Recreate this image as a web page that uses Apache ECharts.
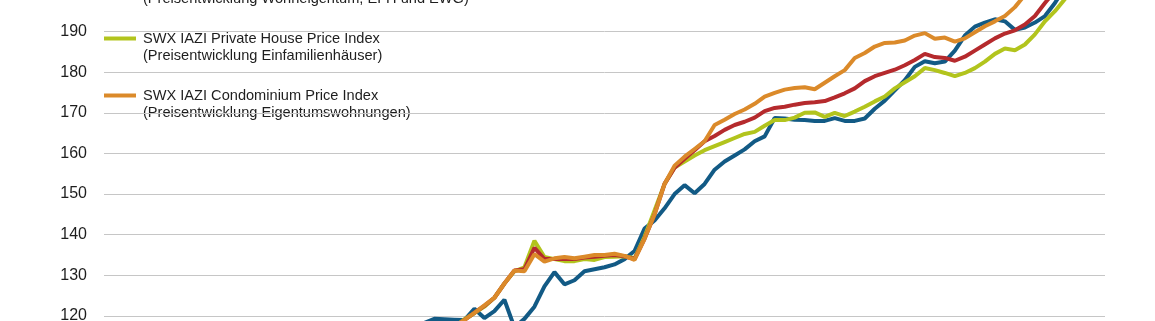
<!DOCTYPE html>
<html><head><meta charset="utf-8">
<script src="https://cdn.jsdelivr.net/npm/echarts@6/dist/echarts.min.js"></script>
<style>html,body{margin:0;padding:0;background:#fff}#c{width:1155px;height:321px}</style>
</head><body><div id="c"></div>
<script>
// x positions: quarterly points, first series value sits at index START_INDEX
const START_INDEX = 30;
const N_POINTS = 101;
const FIRST_YEAR = 1988;
const categories = [];
for (let i = 0; i < N_POINTS; i++) categories.push((FIRST_YEAR + Math.floor(i / 4)) + ' Q' + (i % 4 + 1));

const yMin = 110, yMax = 200, yStep = 10;

const seriesNames = [
  'SWX IAZI Investment Real Estate Price Index',
  'SWX IAZI Private House Price Index',
  'SWX IAZI Private Real Estate Price Index',
  'SWX IAZI Condominium Price Index'
];
const legendSubtitles = [
  '',
  '(Preisentwicklung Einfamilienhäuser)',
  '(Preisentwicklung Wohneigentum, EFH und EWG)',
  '(Preisentwicklung Eigentumswohnungen)'
];

const blueValues = [116.5,117.5,118.3,119.3,119.2,119.1,119.0,121.8,119.5,121.2,124.0,117.2,119.3,122.3,127.3,130.8,127.8,128.8,131.0,131.5,132.0,132.7,134.0,136.0,141.5,143.5,146.5,150.0,152.2,150.2,152.5,156.0,158.0,159.5,161.0,163.0,164.2,168.7,168.6,168.3,168.2,168.0,168.0,168.7,168.0,168.0,168.6,171.0,173.0,175.5,178.0,181.3,182.7,182.2,182.6,185.3,189.0,191.2,192.2,193.0,192.5,190.4,191.0,192.2,193.8,197.0,201.0,205.0];
const greenValues = [112,113,114,115,116,117.3,119.2,120.7,122.3,124.5,128.0,131.0,132.0,138.5,134.5,134.0,133.5,133.5,134.0,133.8,134.5,134.6,134.7,134.2,139.5,146.0,152.5,156.5,158.0,159.5,160.8,161.8,162.8,163.8,164.8,165.3,166.8,168.2,168.2,168.8,170.0,170.1,169.0,170.0,169.2,170.3,171.5,172.8,174.0,176.0,177.5,179.0,181.0,180.5,179.8,179.0,179.8,181.0,182.6,184.5,185.8,185.4,186.8,189.3,192.5,195.0,198.0,202.0];
const redValues = [112,113,114,115,116,117.3,119.0,120.8,122.5,124.5,128.0,131.2,131.5,136.8,134.0,134.0,134.0,134.0,134.4,134.6,134.8,135.0,134.7,134.0,139.0,145.0,152.5,156.5,158.7,160.8,163.0,164.3,165.8,167.0,167.8,168.8,170.4,171.2,171.5,172.0,172.4,172.6,172.9,173.8,174.8,176.0,177.8,179.0,179.8,180.6,181.7,183.0,184.5,183.7,183.5,182.8,183.8,185.3,186.8,188.3,189.5,190.3,191.7,193.8,197.0,200.0,204.0];
const orangeValues = [112,113,114,115,116,117.3,119.0,120.8,122.6,124.5,128.0,131.2,131.0,135.2,133.4,134.2,134.5,134.2,134.6,135.0,135.0,135.3,134.8,133.8,139.0,145.0,152.5,157.0,159.2,161.1,163.0,167.0,168.3,169.7,170.8,172.2,174.0,174.9,175.7,176.1,176.3,175.8,177.4,179.0,180.5,183.5,184.7,186.3,187.2,187.3,187.8,189.0,189.6,188.2,188.5,187.5,188.3,189.8,191.3,192.5,193.8,196.0,199.0,202.0,205.0];

const colors = ['#125a85', '#b2c41d', '#b52a2d', '#db8a2a'];

function pad(arr) {
  const out = new Array(N_POINTS).fill(null);
  arr.forEach((v, k) => { out[START_INDEX + k] = v; });
  return out;
}
const allValues = [blueValues, greenValues, redValues, orangeValues];

const font = '"Liberation Sans", Arial, sans-serif';
const legendOrder = [2, 1, 3]; // red (mostly above view), green, orange
const legendY0 = -18.5, legendGap = 57;
const graphics = [];
legendOrder.forEach((si, k) => {
  const y = legendY0 + k * legendGap;
  graphics.push({ type: 'line', silent: true, shape: { x1: 104, y1: y, x2: 136, y2: y }, style: { stroke: colors[si], lineWidth: 4 } });
  graphics.push({ type: 'text', silent: true, x: 143, y: y - 8.5, style: { text: seriesNames[si] + '\n' + legendSubtitles[si], font: '14.6px ' + font, lineHeight: 17, fill: '#1e1e1e', verticalAlign: 'top' } });
});

const chart = echarts.init(document.getElementById('c'), null, { renderer: 'canvas' });
chart.setOption({
  animation: false,
  backgroundColor: '#fff',
  grid: { left: 104, right: 50, top: -9.14, height: 365.8, outerBoundsMode: 'none', containLabel: false },
  xAxis: {
    type: 'category', data: categories, boundaryGap: false,
    axisLine: { show: false }, axisTick: { show: false }, axisLabel: { show: false }, splitLine: { show: false }
  },
  yAxis: {
    type: 'value', min: yMin, max: yMax, interval: yStep,
    axisLine: { show: false }, axisTick: { show: false },
    axisLabel: { color: '#1e1e1e', fontSize: 16, fontFamily: font, margin: 17, showMinLabel: false, showMaxLabel: false },
    splitLine: { lineStyle: { color: '#c6c6c6', width: 1 } }
  },
  graphic: graphics,
  series: allValues.map((vals, si) => ({
    name: seriesNames[si], type: 'line', data: pad(vals), showSymbol: false, symbol: 'none',
    lineStyle: { color: colors[si], width: 4 }, itemStyle: { color: colors[si] }, z: 2 + si
  }))
});
</script></body></html>
